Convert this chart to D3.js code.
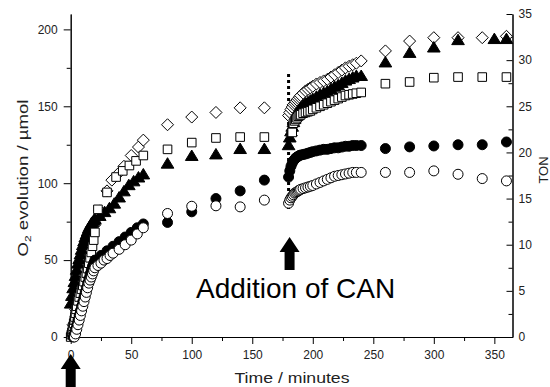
<!DOCTYPE html>
<html><head><meta charset="utf-8">
<script src="https://cdn.jsdelivr.net/npm/d3@7/dist/d3.min.js"></script>
<style>body{margin:0;background:#fff}svg{display:block}</style>
</head><body>
<svg id="c" width="550" height="387"></svg>
<script>
// ---------- data (time in minutes, O2 in umol) ----------
const p2Times = [180,181,182,183,184,185,186,187,188,189,190,192,194,196,198,200,203,206,209,212,215,218,221,224,227,230,233,236,240];

const diamondT = [2,4,6,8,10,12,14,16,18,20,24,30,34,39,44,50,56,60, 80,100,120,140,160].concat(p2Times, [260,280,300,320,340,360]);
const diamondV = [8,18,27,35,42,49,56,62,68,73,82,95,102,106,111,118,123.5,128, 138,143,146,149,149,
  144,146,148,149.5,151,152,153,154,155,156,157,158.5,160,161,162,163,164.5,165.5,166.5,167.5,169,170.5,172,173.5,175,176,177,178,179.5,
  186,192.4,194.6,194.6,194.6,195.5];

const triangleT = [0,1,2,3,4,5,6,7,8,9,10,11,12,13,14,15,16,17,18,19,20,24,28,32,36,40,44,48,52,56,60, 80,100,120,140,160].concat(p2Times, [260,280,300,320,350,360]);
const triangleV = [22,27,32,36,40,44,48,51,54,57,60,62.5,65,67,69,71,72.5,74,75,76,77,79,81.5,84,87,91,95,99,101.5,104,106, 113,118,119,122.5,122.5,
  125,130,134,137,140,142,144,145.5,147,148,149,150.5,152,153,154,155,156.5,158,159,160,161.5,163,164,165.5,167,168,169,170,170,
  178.8,185,188.5,193.3,194,194];

const squareT = [0,0.5,1,1.5,2,2.5,3,3.5,4,4.5,5,6,7,8,9,10,11,12,13,14,15,16,17,18,19,20,22.5,30,37.5,43,48.5,54,60, 80,100,120,140,160,
  183,184,185,186,187,188,189,190,192,194,196,198,200,203,206,209,212,215,218,221,224,227,230,233,236,240, 260,280,300,320,340,360];
const squareV = [0,1.5,3,5,7,9,11,13,15.5,18,20,23.5,26,28.5,31,33.5,36,39,41.5,44.5,48,51.5,55,59,63,68,83,94,104,108,111.5,114.5,118, 122,126.4,129.4,130,130,
  133,139,140.5,141.5,142.5,143.5,144,144.5,145.5,146,146.5,147,148,149,150,151,152,153,154,155,156,157,157.5,158,158.5,159, 164.7,165.8,168.6,169,169,169];

const filledT = [2,3,4,5,6,7,8,9,10,11,12,13,14,15,16,17,18,19,20,25,30,35,40,45,50,55,60, 80,100,120,140,160].concat(p2Times, [260,280,300,320,340,360]);
const filledV = [0,2,5,8,11,14,17,20,23,26,29,32,35,38,41,43.5,46,48,50,53,56,59,62,65,68,71,73.5, 74.5,81.4,90,95,102,
  104,108,111,113,114.5,115.5,116.5,117,117.5,118,118.3,118.6,119,119.5,120,120.5,121,121.5,122,122,122.5,123,123,123.5,124,124,124.5,124.5,124.5,
  122.5,123.6,124.2,125,125,126.8];

const openT = [3,4,5,6,7,8,9,10,11,12,13,14,15,16,17,18,19,20,22.5,25,27.5,30,32.5,35,40,45,50,55,60, 80,100,120,140,160].concat(p2Times, [260,280,300,320,340,360]);
const openV = [0,2,5,8,11,14,17,20,23,26,29,32,35,37,39,41,43,45,46.5,48,50,51,53,54.5,57,60,63,67,71, 80.3,85,85.3,84.6,89,
  87,89,90.5,91.5,92.5,93.5,94,94.5,95,95.5,96,96.5,97,97.5,98,98.5,99.5,100.5,101.5,102.5,103.5,104.5,105,105.5,106,106.5,107,107,107,
  107,107,108,105.8,103,101.5];

const xTicks = [0,50,100,150,200,250,300,350];
const xMinor = [25,75,125,175,225,275,325];
const yTicks = [0,50,100,150,200];
const yMinor = [25,75,125,175];
const rTicks = [0,5,10,15,20,25,30,35];
const rMinor = [2.5,7.5,12.5,17.5,22.5,27.5,32.5];
const canTime = 180;

// ---------- scales ----------
const svg = d3.select('#c');
const x = d3.scaleLinear().domain([0,365]).range([70.7,512.5]);
const y = d3.scaleLinear().domain([0,210]).range([337,14]);
const yr = d3.scaleLinear().domain([0,35]).range([337,14]);
const font = "'Liberation Sans', Arial, sans-serif";

// ---------- axes ----------
function styleAxis(g){
  g.selectAll('path,line').attr('stroke','#000').attr('stroke-width',1);
  g.selectAll('text').attr('font-family',font).attr('font-size',12).attr('fill','#222');
}
svg.append('g').attr('transform',`translate(0,${y(0)})`)
  .call(d3.axisBottom(x).tickValues(xTicks).tickSize(7).tickSizeOuter(0).tickPadding(6)).call(styleAxis);
svg.append('g').attr('transform',`translate(0,${y(0)})`)
  .call(d3.axisBottom(x).tickValues(xMinor).tickSize(4).tickSizeOuter(0).tickFormat('')).call(styleAxis);
svg.append('g').attr('transform',`translate(${x(0)},0)`)
  .call(d3.axisLeft(y).tickValues(yTicks).tickSize(7).tickSizeOuter(0).tickPadding(6)).call(styleAxis);
svg.append('g').attr('transform',`translate(${x(0)},0)`)
  .call(d3.axisLeft(y).tickValues(yMinor).tickSize(4).tickSizeOuter(0).tickFormat('')).call(styleAxis);
svg.append('g').attr('transform',`translate(${x(365)},0)`)
  .call(d3.axisRight(yr).tickValues(rTicks).tickSize(-6).tickSizeOuter(0).tickPadding(6)).call(styleAxis);
svg.append('g').attr('transform',`translate(${x(365)},0)`)
  .call(d3.axisRight(yr).tickValues(rMinor).tickSize(-4).tickSizeOuter(0).tickFormat('')).call(styleAxis);

// axis titles
const yl = svg.append('text').attr('transform','translate(28,178) rotate(-90)')
  .attr('text-anchor','middle').attr('font-family',font).attr('font-size',14).attr('fill','#222')
  .attr('textLength',157).attr('lengthAdjust','spacingAndGlyphs');
yl.append('tspan').text('O');
yl.append('tspan').attr('font-size',9).attr('dy',3).text('2');
yl.append('tspan').attr('dy',-3).text(' evolution / µmol');

svg.append('text').attr('x',292).attr('y',383).attr('text-anchor','middle')
  .attr('font-family',font).attr('font-size',14).attr('fill','#222')
  .attr('textLength',115).attr('lengthAdjust','spacingAndGlyphs').text('Time / minutes');

svg.append('text').attr('transform','translate(548,170) rotate(-90)').attr('text-anchor','middle')
  .attr('font-family',font).attr('font-size',13).attr('fill','#222').text('TON');

// ---------- dotted CAN line ----------
svg.append('line').attr('x1',x(canTime)).attr('x2',x(canTime)).attr('y1',y(171)).attr('y2',y(82))
  .attr('stroke','#000').attr('stroke-width',3).attr('stroke-dasharray','3,3');

// ---------- markers ----------
const shapes = {
  diamond: r => `M0,${-r}L${r},0L0,${r}L${-r},0Z`,
  triangle: r => `M0,${-r}L${r*1.15},${r*0.9}L${-r*1.15},${r*0.9}Z`,
  square: r => `M${-r},${-r}H${r}V${r}H${-r}Z`
};
function drawSeries(T,V,kind,fill,r){
  const data = T.map((t,i)=>({t, v:V[i]}));
  const g = svg.append('g');
  if(kind==='circle'){
    g.selectAll('circle').data(data).join('circle')
      .attr('cx',d=>x(d.t)).attr('cy',d=>y(d.v)).attr('r',r)
      .attr('fill',fill).attr('stroke','#000').attr('stroke-width',1);
  } else {
    g.selectAll('path').data(data).join('path')
      .attr('transform',d=>`translate(${x(d.t)},${y(d.v)})`).attr('d',shapes[kind](r))
      .attr('fill',fill).attr('stroke','#000').attr('stroke-width',1);
  }
}
drawSeries(diamondT,diamondV,'diamond','#fff',6);
drawSeries(triangleT,triangleV,'triangle','#000',5.5);
drawSeries(squareT,squareV,'square','#fff',4.3);
drawSeries(filledT,filledV,'circle','#000',5);
drawSeries(openT,openV,'circle','#fff',5);

// ---------- annotation ----------
function arrow(cx,tip){
  return `M${cx},${tip}L${cx+10},${tip+15}L${cx+5},${tip+15}L${cx+5},${tip+33}L${cx-5},${tip+33}L${cx-5},${tip+15}L${cx-10},${tip+15}Z`;
}
svg.append('path').attr('d',arrow(x(0),354)).attr('fill','#000');
svg.append('path').attr('d',arrow(x(canTime)+1,237)).attr('fill','#000');
svg.append('text').attr('x',196).attr('y',298).attr('font-family',font).attr('font-size',28)
  .attr('fill','#000').text('Addition of CAN');
</script>
</body></html>
